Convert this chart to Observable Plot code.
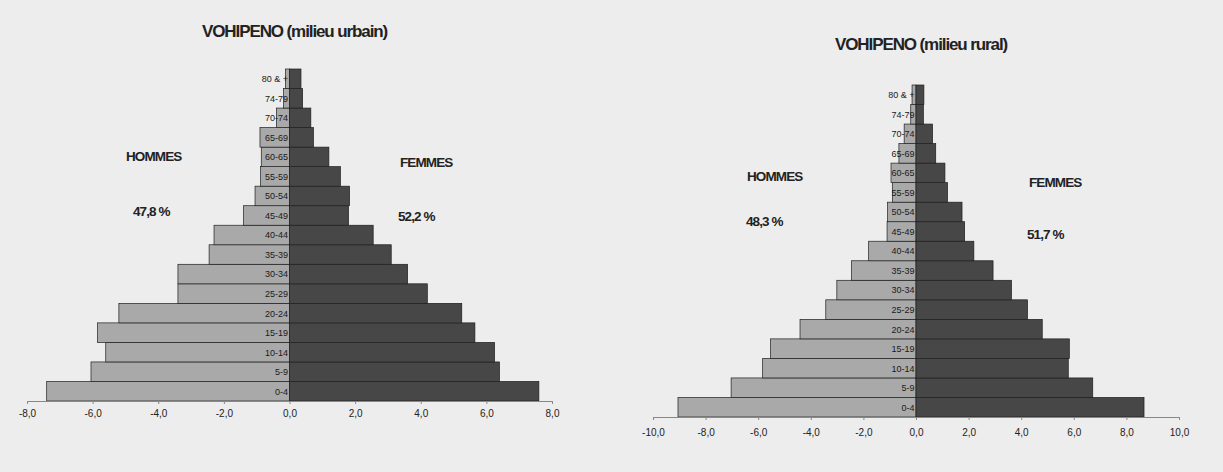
<!DOCTYPE html>
<html>
<head>
<meta charset="utf-8">
<script src="https://cdn.jsdelivr.net/npm/d3@7"></script>
<script src="https://cdn.jsdelivr.net/npm/@observablehq/plot@0.6"></script>
<style>
  html, body { margin: 0; padding: 0; background: #ededed; }
  #page { position: relative; width: 1223px; height: 472px; overflow: hidden; background: #ededed; }
  .chart { position: absolute; top: 0; width: 611px; height: 472px; }
  .lbl { position: absolute; white-space: nowrap; font-family: "Liberation Sans", Arial, sans-serif; font-weight: bold; color: #222; line-height: 20px; height: 20px; }
  .title { font-size: 17px; letter-spacing: -1.1px; }
  .sex { font-size: 13.5px; letter-spacing: -0.9px; }
</style>
</head>
<body>
<div id="page"></div>
<script>
const ages = ["0-4","5-9","10-14","15-19","20-24","25-29","30-34","35-39","40-44","45-49","50-54","55-59","60-65","65-69","70-74","74-79","80 & +"];

const urbainHommes = [7.4, 6.05, 5.6, 5.85, 5.2, 3.4, 3.4, 2.45, 2.3, 1.4, 1.05, 0.88, 0.86, 0.9, 0.4, 0.18, 0.12];
const urbainFemmes = [7.6, 6.4, 6.25, 5.65, 5.25, 4.2, 3.6, 3.1, 2.55, 1.8, 1.83, 1.55, 1.2, 0.73, 0.65, 0.4, 0.35];
const ruralHommes  = [9.05, 7.03, 5.83, 5.53, 4.41, 3.43, 3.01, 2.45, 1.8, 1.1, 1.08, 0.9, 0.95, 0.65, 0.45, 0.2, 0.15];
const ruralFemmes  = [8.67, 6.72, 5.79, 5.83, 4.8, 4.24, 3.63, 2.93, 2.2, 1.85, 1.75, 1.2, 1.1, 0.75, 0.63, 0.28, 0.3];

const urbainTicks = [-8, -6, -4, -2, 0, 2, 4, 6, 8];
const ruralTicks = [-10, -8, -6, -4, -2, 0, 2, 4, 6, 8, 10];

const urbainTitle = "VOHIPENO (milieu urbain)";
const ruralTitle = "VOHIPENO (milieu rural)";
const urbainPct = ["47,8 %", "52,2 %"];
const ruralPct = ["48,3 %", "51,7 %"];

const fmt = d => d3.format(".1f")(d).replace(".", ",").replace("\u2212", "-");

function pyramid({hommes, femmes, ticks, marginLeft, marginRight, marginTop, marginBottom, tickPadding}) {
  const rows = ages.map((age, i) => ({age, i, h: hommes[i], f: femmes[i]}));
  const dom = [ticks[0], ticks[ticks.length - 1]];
  return Plot.plot({
    width: 611, height: 472,
    marginTop, marginBottom, marginLeft, marginRight,
    style: {background: "transparent", fontFamily: "'Liberation Sans', Arial, sans-serif", color: "#222"},
    x: {domain: dom, axis: null, label: null},
    y: {domain: [-0.5, ages.length - 0.5], axis: null, label: null},
    marks: [
      Plot.rect(rows, {x1: 0, x2: d => -d.h, y1: d => d.i - 0.5, y2: d => d.i + 0.5, fill: "#a9a9a9", stroke: "#1e1e1e", strokeWidth: 0.7}),
      Plot.rect(rows, {x1: 0, x2: "f", y1: d => d.i - 0.5, y2: d => d.i + 0.5, fill: "#474747", stroke: "#1e1e1e", strokeWidth: 0.7}),
      Plot.text(rows, {x: 0, y: "i", text: "age", textAnchor: "end", dx: -2, fontSize: 9, fill: "#1a1a1a", letterSpacing: "-0.5px"}),
      Plot.ruleY([-0.5], {x1: dom[0], x2: dom[1], stroke: "#888", strokeWidth: 1}),
      Plot.axisX({ticks, tickSize: 3, tickPadding, tickFormat: fmt, fontSize: 10, stroke: "#888", fill: "#222", label: null, letterSpacing: "-0.4px"})
    ]
  });
}

function addLabel(parent, text, cls, left, cy) {
  const d = document.createElement("div");
  d.className = "lbl " + cls;
  d.textContent = text;
  d.style.left = left + "px";
  d.style.top = (cy - 10) + "px";
  parent.appendChild(d);
}

const page = document.getElementById("page");

const left = document.createElement("div");
left.className = "chart"; left.style.left = "0px";
left.appendChild(pyramid({hommes: urbainHommes, femmes: urbainFemmes, ticks: urbainTicks,
  marginLeft: 27, marginRight: 59, marginTop: 69, marginBottom: 71, tickPadding: 5}));
page.appendChild(left);

const right = document.createElement("div");
right.className = "chart"; right.style.left = "612px";
right.appendChild(pyramid({hommes: ruralHommes, femmes: ruralFemmes, ticks: ruralTicks,
  marginLeft: 41, marginRight: 44, marginTop: 85, marginBottom: 55, tickPadding: 8}));
page.appendChild(right);

addLabel(page, urbainTitle, "title", 202, 32);
addLabel(page, "HOMMES", "sex", 126, 157);
addLabel(page, urbainPct[0], "sex", 133, 212);
addLabel(page, "FEMMES", "sex", 400, 163);
addLabel(page, urbainPct[1], "sex", 398, 217);

addLabel(page, ruralTitle, "title", 835, 45);
addLabel(page, "HOMMES", "sex", 747, 177);
addLabel(page, ruralPct[0], "sex", 746, 222);
addLabel(page, "FEMMES", "sex", 1029, 183);
addLabel(page, ruralPct[1], "sex", 1027, 235);
</script>
</body>
</html>
